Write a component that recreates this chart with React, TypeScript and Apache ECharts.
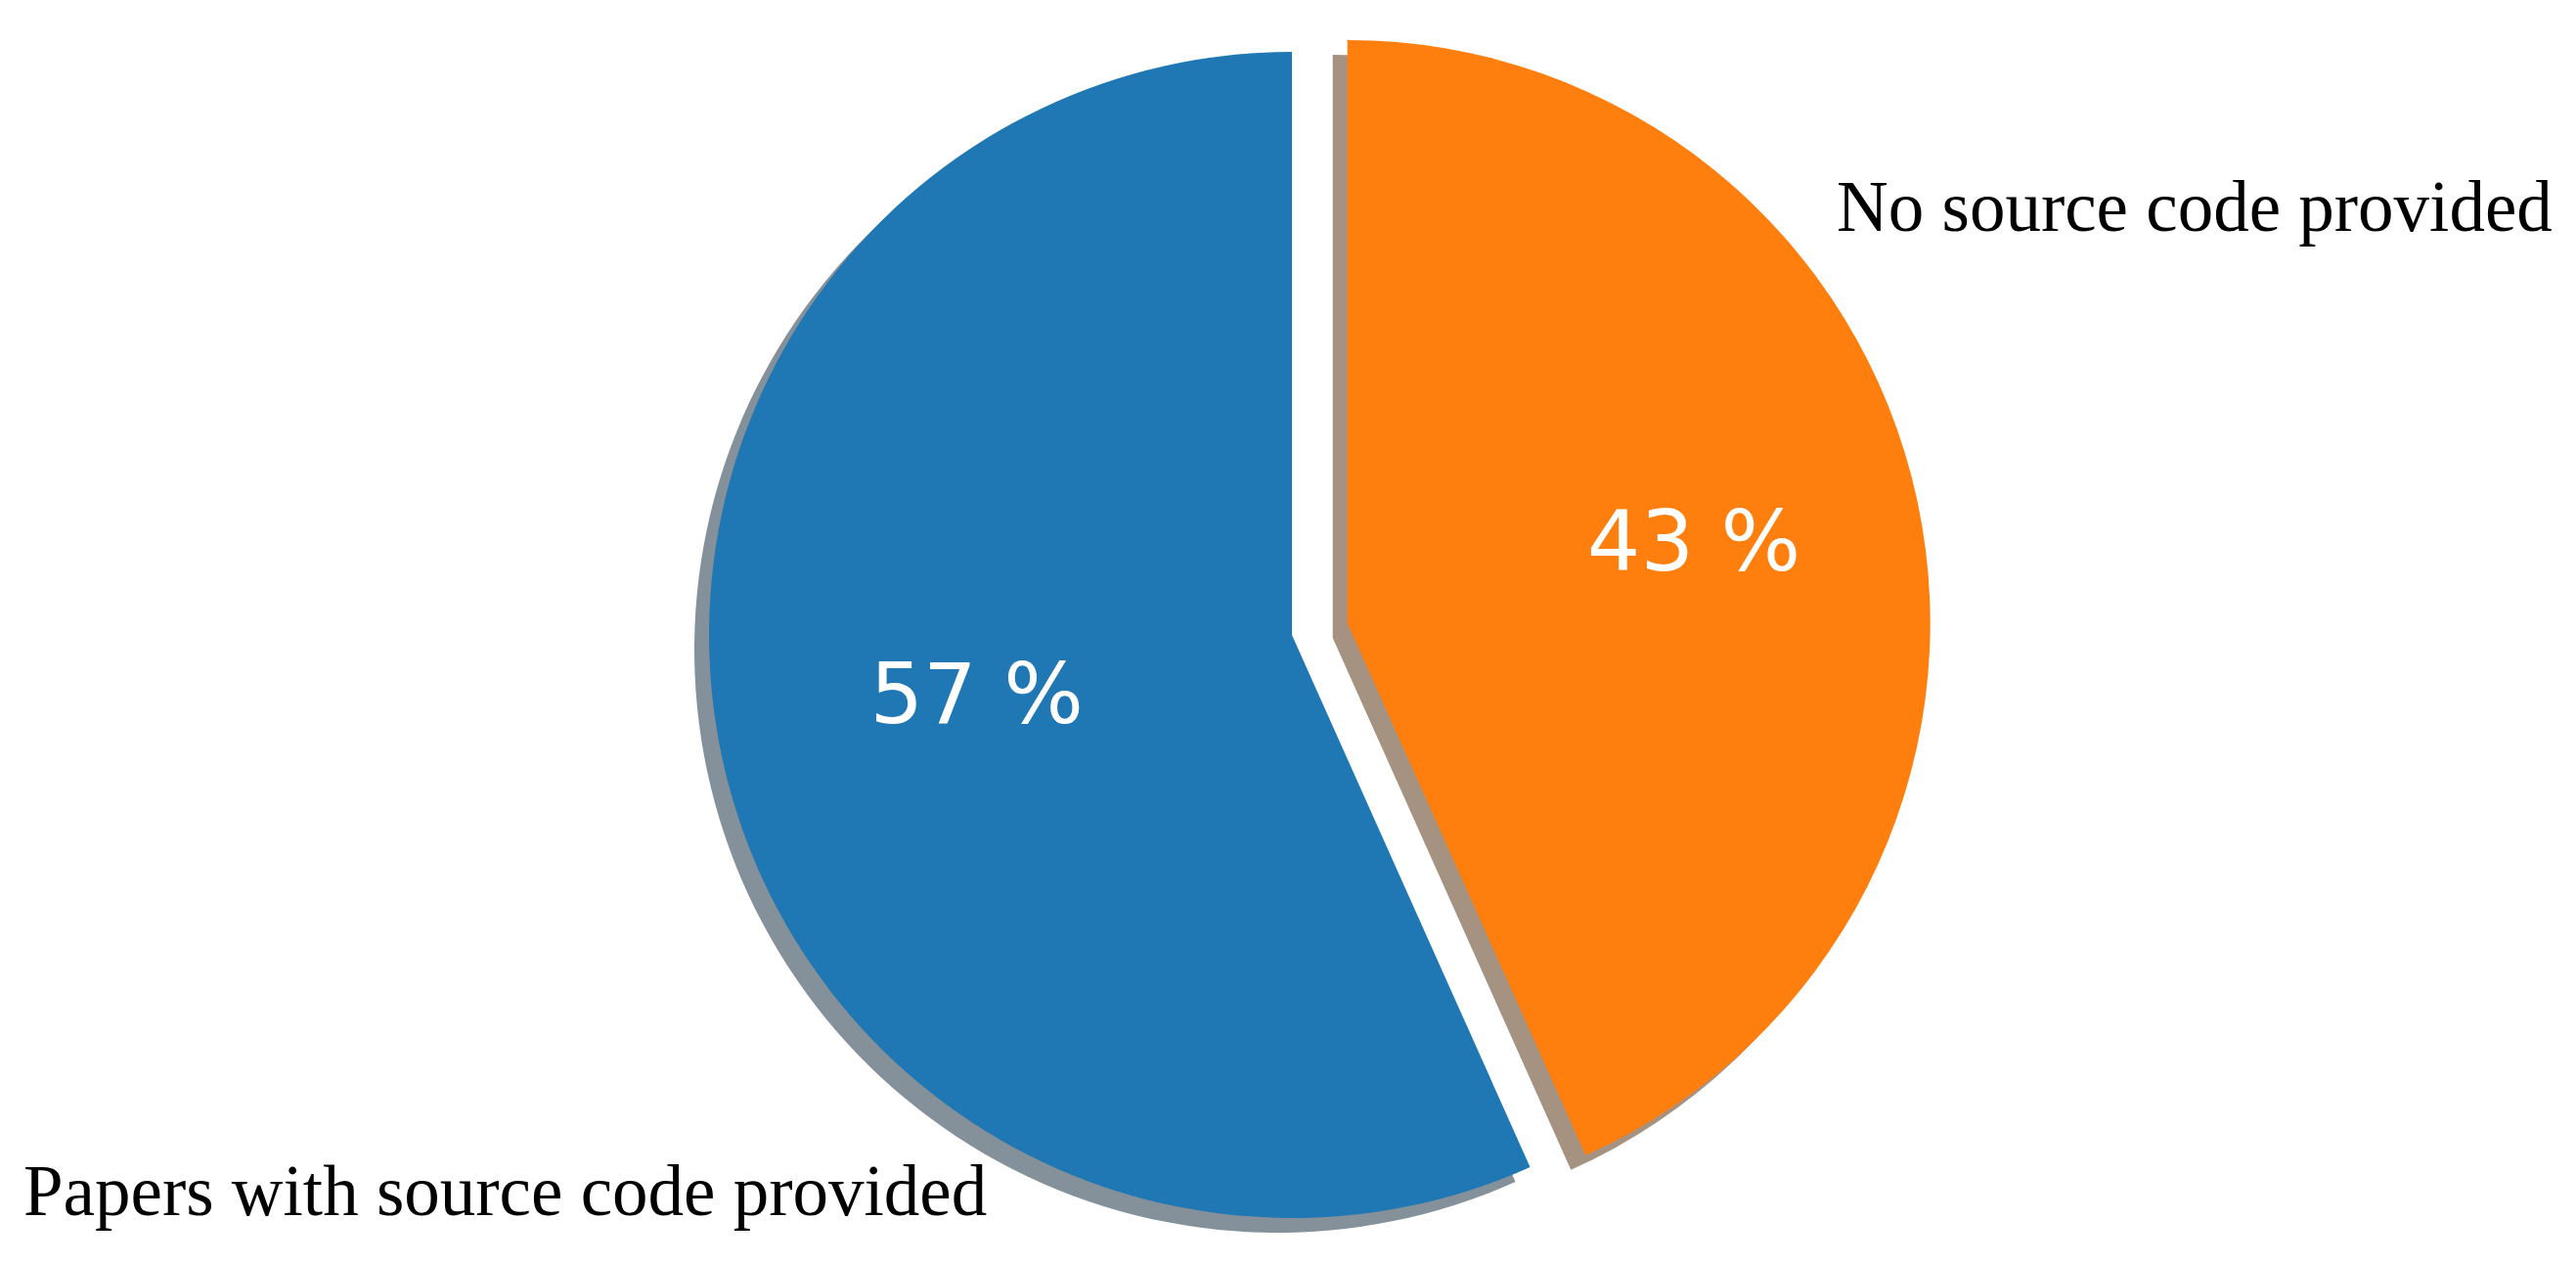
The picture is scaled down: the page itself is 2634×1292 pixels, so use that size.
import React, { useEffect, useRef } from "react";
import * as echarts from "echarts";

const categories = ["Papers with source code provided", "No source code provided"];
const shares = [56.7, 43.3];
const sliceColors = ["#1f77b4", "#ff7f0e"];
const shadowColors = ["#84919a", "#a69281"];
const explodedIndex = 1;

const W = 2634;
const H = 1292;
const CX = 1321;
const CY = 649;
const R = 596;
const SHADOW_DX = -15;
const SHADOW_DY = 15;
const EXPLODE = 58;

export default function App() {
  const ref = useRef<HTMLDivElement>(null);

  useEffect(() => {
    document.body.style.margin = "0";
    if (!ref.current) return;
    const chart = echarts.init(ref.current, undefined, { renderer: "svg" });

    const makeData = (colors: string[] | null) =>
      categories.map((name, i) => ({
        name,
        value: shares[i],
        selected: i === explodedIndex,
        itemStyle: { color: colors ? colors[i] : "rgba(0,0,0,0)" },
      }));

    const common = {
      type: "pie" as const,
      startAngle: 90,
      clockwise: false,
      selectedMode: "single" as const,
      selectedOffset: EXPLODE,
      avoidLabelOverlap: false,
      silent: true,
      emphasis: { disabled: true },
      labelLine: { show: false },
    };

    chart.setOption({
      animation: false,
      backgroundColor: "#ffffff",
      series: [
        {
          ...common,
          name: "shadow",
          center: [CX + SHADOW_DX, CY + SHADOW_DY],
          radius: [0, R],
          label: { show: false },
          data: makeData(shadowColors),
        },
        {
          ...common,
          name: "slices",
          center: [CX, CY],
          radius: [0, R],
          label: { show: false },
          itemStyle: { borderWidth: 0 },
          data: makeData(sliceColors),
        },
        {
          ...common,
          name: "pct",
          center: [CX, CY],
          radius: [90, R],
          label: {
            show: true,
            position: "inside",
            color: "#ffffff",
            fontSize: 86,
            fontFamily: "DejaVu Sans",
            formatter: (p: any) => `${Math.round(p.percent)} %`,
          },
          labelLayout: { dx: 16, dy: -12 },
          data: makeData(null),
        },
      ],
      graphic: [
        {
          type: "text",
          left: 24,
          top: 1221 - 40,
          style: {
            text: categories[0],
            font: '73px "Liberation Serif"',
            fill: "#000000",
          },
        },
        {
          type: "text",
          left: 1878,
          top: 215 - 40,
          style: {
            text: categories[1],
            font: '73px "Liberation Serif"',
            fill: "#000000",
          },
        },
      ],
    });

    return () => chart.dispose();
  }, []);

  return <div ref={ref} style={{ width: W, height: H }} />;
}
